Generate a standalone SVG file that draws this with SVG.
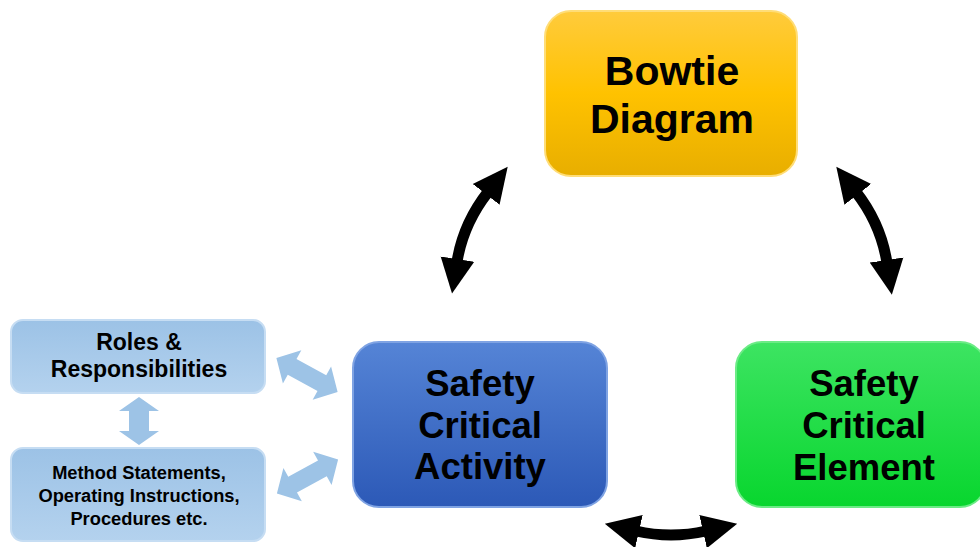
<svg xmlns="http://www.w3.org/2000/svg" width="980" height="547" viewBox="0 0 980 547">
<defs>
<linearGradient id="gY" x1="0" y1="0" x2="0" y2="1"><stop offset="0" stop-color="#FFCB3C"/><stop offset="0.5" stop-color="#FFC200"/><stop offset="1" stop-color="#E8AE00"/></linearGradient>
<linearGradient id="gB" x1="0" y1="0" x2="0" y2="1"><stop offset="0" stop-color="#5584D6"/><stop offset="1" stop-color="#2C59B7"/></linearGradient>
<linearGradient id="gG" x1="0" y1="0" x2="0" y2="1"><stop offset="0" stop-color="#3DE462"/><stop offset="1" stop-color="#08D62E"/></linearGradient>
<linearGradient id="gL" x1="0" y1="0" x2="0" y2="1"><stop offset="0" stop-color="#9CC2E6"/><stop offset="1" stop-color="#B4D2EE"/></linearGradient>
<marker id="ah" viewBox="0 -18 36 36" markerUnits="userSpaceOnUse" markerWidth="36" markerHeight="36" refX="3" refY="0" orient="auto-start-reverse"><path d="M0,-17 L35,0 L0,17 Z" fill="#000"/></marker>
<polygon id="dbl" points="-35,0 -17,-19 -17,-9 17,-9 17,-19 35,0 17,19 17,9 -17,9 -17,19"/>
</defs>
<style>
.t{font-family:"Liberation Sans",Arial,sans-serif;font-weight:bold;fill:#000;text-anchor:middle}
.big{font-size:36.5px}
.la{fill:#9DC3E6}
.con{fill:none;stroke:#000;stroke-width:11;marker-start:url(#ah);marker-end:url(#ah)}
</style>
<rect width="980" height="547" fill="#fff"/>
<g id="connectors">
<path class="con" d="M457,262 Q463,224 488,192"/>
<path class="con" d="M887,263 Q881,224 856,192"/>
<path class="con" d="M636,531 Q671,539 706,531"/>
<polygon class="la" points="139,397 159,411 149,411 149,431 159,431 139,445 119,431 129,431 129,411 119,411"/>
<use href="#dbl" class="la" transform="translate(307,375) rotate(29)"/>
<use href="#dbl" class="la" transform="translate(307.5,476.5) rotate(-29)"/>
</g>
<g id="bowtie">
<rect x="545" y="11" width="252" height="165" rx="26" fill="url(#gY)" stroke="#FFDD77" stroke-width="2"/>
<text class="t" x="672" y="85" font-size="41">Bowtie</text>
<text class="t" x="672" y="133" font-size="41">Diagram</text>
</g>
<g id="sca">
<rect x="353" y="342" width="254" height="165" rx="26" fill="url(#gB)" stroke="#7FA3E3" stroke-width="2"/>
<text class="t big" x="480" y="396">Safety</text>
<text class="t big" x="480" y="438">Critical</text>
<text class="t big" x="480" y="479">Activity</text>
</g>
<g id="sce">
<rect x="736" y="342" width="250" height="165" rx="26" fill="url(#gG)" stroke="#6CEB86" stroke-width="2"/>
<text class="t big" x="864" y="396">Safety</text>
<text class="t big" x="864" y="438">Critical</text>
<text class="t big" x="864" y="480">Element</text>
</g>
<g id="roles">
<rect x="11" y="320" width="254" height="73" rx="12" fill="url(#gL)" stroke="#C6DDF3" stroke-width="2"/>
<text class="t" x="139" y="350" font-size="23">Roles &amp;</text>
<text class="t" x="139" y="377" font-size="23">Responsibilities</text>
</g>
<g id="method">
<rect x="11" y="448" width="254" height="93" rx="12" fill="url(#gL)" stroke="#C6DDF3" stroke-width="2"/>
<text class="t" x="139" y="479" font-size="18.3">Method Statements,</text>
<text class="t" x="139" y="502" font-size="18.3">Operating Instructions,</text>
<text class="t" x="139" y="525" font-size="18.3">Procedures etc.</text>
</g>
</svg>
